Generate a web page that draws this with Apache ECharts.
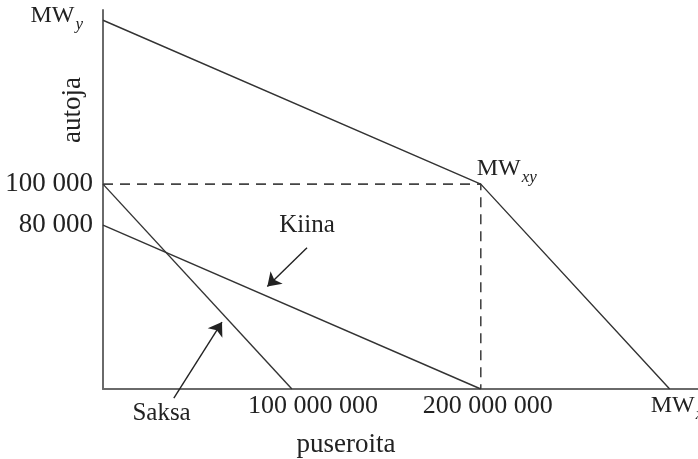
<!DOCTYPE html>
<html>
<head>
<meta charset="utf-8">
<script src="https://cdn.jsdelivr.net/npm/echarts@6/dist/echarts.min.js"></script>
<style>html,body{margin:0;padding:0;background:#fff}#c{width:698px;height:459px}</style>
</head>
<body>
<div id="c"></div>
<script>
// ---- data ----
var frontier = [[0, 180000], [200e6, 100000], [300e6, 0]];   // MWy, MWxy, MWx
var frontierSubs = ['y', 'xy', 'x'];
var saksa = [[0, 100000], [100e6, 0]];
var kiina = [[0, 80000], [200e6, 0]];
var guide = [[0, 100000], [200e6, 100000], [200e6, 0]];
var xTickValues = [100e6, 200e6];
var xTickLabels = ['100 000 000', '200 000 000'];
var yTickValues = [80000, 100000];
var yTickLabels = ['80 000', '100 000'];
var annotationNames = ['Kiina', 'Saksa'];
var annotationPoints = [[108e6, 80000], [31e6, -11700]];
var arrowKiina = [[108e6, 69000], [87e6, 50000]];
var arrowSaksa = [[37.5e6, -4400], [63e6, 32700]];
var xName = 'puseroita';
var yName = 'autoja';

var FONT = 'Liberation Serif';
var INK = '#222';
var LINE = '#333';

var chart = echarts.init(document.getElementById('c'), null, {renderer: 'canvas'});

var mwRich = {
  m: {fontFamily: FONT, fontSize: 24, color: INK},
  s: {fontFamily: FONT, fontSize: 17, fontStyle: 'italic', color: INK, padding: [18, 0, 0, 1]}
};
var mwPos = [
  {position: [-20, -22], align: 'right', verticalAlign: 'top'},
  {position: [-4, -33], align: 'left', verticalAlign: 'top'},
  {position: [-19, -1], align: 'left', verticalAlign: 'top'}
];

var option = {
  animation: false,
  grid: {left: 103, right: 0, top: 10, bottom: 70, outerBoundsMode: 'none', containLabel: false},
  xAxis: {
    type: 'value', min: 0, max: 315e6,
    name: xName, nameLocation: 'middle', nameGap: 42, nameMoveOverlap: false,
    nameTextStyle: {fontFamily: FONT, fontSize: 27, color: INK, padding: [0, 109, 0, 0]},
    axisLine: {show: true, onZero: false, lineStyle: {color: '#6a6a6a', width: 2}},
    axisTick: {show: false},
    splitLine: {show: false},
    axisLabel: {
      customValues: xTickValues, margin: 4,
      formatter: function (v) {
        var i = xTickValues.indexOf(v);
        return '{t' + i + '|' + xTickLabels[i] + '}';
      },
      rich: {
        t0: {fontFamily: FONT, fontSize: 26, color: INK, padding: [0, 0, 0, 42]},
        t1: {fontFamily: FONT, fontSize: 26, color: INK, padding: [0, 0, 0, 14]}
      }
    }
  },
  yAxis: {
    type: 'value', min: 0, max: 185000,
    name: yName, nameLocation: 'middle', nameGap: 17, nameRotate: 90, nameMoveOverlap: false,
    nameTextStyle: {fontFamily: FONT, fontSize: 27, color: INK, padding: [0, 0, 0, 179]},
    axisLine: {show: true, onZero: false, lineStyle: {color: '#6a6a6a', width: 2}},
    axisTick: {show: false},
    splitLine: {show: false},
    axisLabel: {
      customValues: yTickValues, margin: 10,
      fontFamily: FONT, fontSize: 27, color: INK,
      formatter: function (v) { return yTickLabels[yTickValues.indexOf(v)]; }
    }
  },
  series: [
    {
      type: 'line', data: guide, symbol: 'none', silent: true,
      lineStyle: {color: '#444', width: 1.6, type: [10, 7]}
    },
    {
      type: 'line', data: saksa, symbol: 'none', silent: true,
      lineStyle: {color: LINE, width: 1.4}
    },
    {
      type: 'line', data: kiina, symbol: 'none', silent: true,
      lineStyle: {color: LINE, width: 1.4}
    },
    {
      type: 'line', silent: true, symbol: 'circle', symbolSize: 0, showSymbol: true,
      lineStyle: {color: LINE, width: 1.4},
      itemStyle: {color: 'transparent'},
      data: frontier.map(function (p, i) {
        return {
          value: p,
          label: Object.assign({
            show: true,
            formatter: '{m|MW}{s|' + frontierSubs[i] + '}',
            rich: mwRich
          }, mwPos[i])
        };
      })
    },
    {
      type: 'scatter', silent: true, clip: false, symbolSize: 0,
      itemStyle: {color: INK, opacity: 1},
      data: annotationPoints.map(function (p, i) { return {value: p, name: annotationNames[i]}; }),
      label: {
        show: true, position: 'inside', formatter: '{b}', opacity: 1,
        fontFamily: FONT, fontSize: 25, color: INK, textBorderWidth: 0
      }
    },
    {
      type: 'lines', coordinateSystem: 'cartesian2d', silent: true, clip: false,
      symbol: ['none', 'arrow'], symbolSize: 13,
      lineStyle: {color: '#222', width: 1.4, opacity: 1, curveness: 0},
      data: [{coords: arrowKiina}, {coords: arrowSaksa}]
    }
  ]
};
chart.setOption(option);
</script>
</body>
</html>
